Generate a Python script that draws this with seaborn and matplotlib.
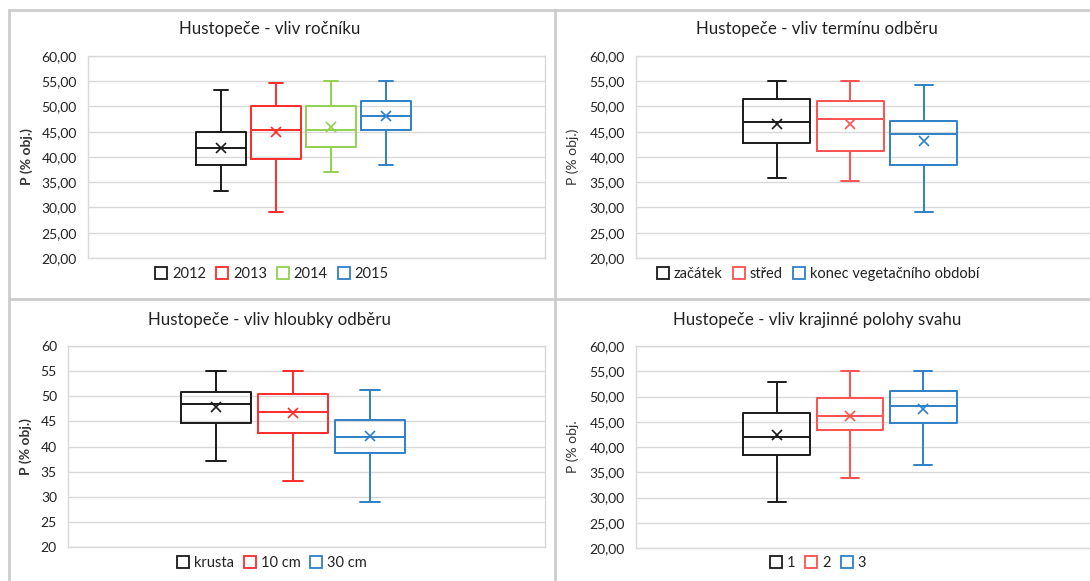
import numpy as np
import pandas as pd
import matplotlib
matplotlib.use("Agg")
import matplotlib.pyplot as plt
from matplotlib.lines import Line2D
from matplotlib.ticker import FuncFormatter, MultipleLocator
import seaborn as sns

sns.set_theme(style="white")
plt.rcParams["font.family"] = ["Lato", "DejaVu Sans"]

# --- Panel 1: vliv ročníku ---
years = ["2012", "2013", "2014", "2015"]
years_min = [33.3, 29.1, 37.1, 38.5]
years_q1 = [38.5, 39.7, 42.0, 45.4]
years_med = [41.7, 45.4, 45.4, 48.2]
years_q3 = [45.0, 50.1, 50.1, 51.0]
years_max = [53.2, 54.6, 55.0, 55.0]
years_mean = [41.7, 44.9, 46.0, 48.2]

# --- Panel 2: vliv termínu odběru ---
terms = ["začátek", "střed", "konec vegetačního období"]
terms_min = [35.9, 35.3, 29.1]
terms_q1 = [42.7, 41.1, 38.5]
terms_med = [47.0, 47.6, 44.5]
terms_q3 = [51.4, 51.0, 47.2]
terms_max = [55.0, 55.0, 54.3]
terms_mean = [46.6, 46.6, 43.1]

# --- Panel 3: vliv hloubky odběru ---
depths = ["krusta", "10 cm", "30 cm"]
depths_min = [37.1, 33.2, 28.9]
depths_q1 = [44.6, 42.7, 38.7]
depths_med = [48.4, 46.8, 41.8]
depths_q3 = [50.9, 50.5, 45.3]
depths_max = [55.0, 55.0, 51.3]
depths_mean = [47.8, 46.6, 42.1]

# --- Panel 4: vliv krajinné polohy svahu ---
slopes = ["1", "2", "3"]
slopes_min = [29.1, 33.9, 36.5]
slopes_q1 = [38.5, 43.4, 44.7]
slopes_med = [41.9, 46.2, 48.2]
slopes_q3 = [46.8, 49.8, 51.0]
slopes_max = [52.8, 55.0, 55.0]
slopes_mean = [42.4, 46.2, 47.6]

BLACK = "#1a1a1a"
RED = "#ff2a2a"
RED_LIGHT = "#ff5050"
GREEN = "#92d050"
BLUE = "#2e80c8"

W, H = 1090, 581
fig = plt.figure(figsize=(W / 100, H / 100), dpi=100)
fig.patch.set_facecolor("white")


def px_axes(x0, y0, x1, y1):
    return fig.add_axes([x0 / W, 1 - y1 / H, (x1 - x0) / W, (y1 - y0) / H])


def panel(ax, cats, mins, q1, med, q3, maxs, means, colors, title, title_xy,
          ylabel, ylabel_x, ylabel_bold, legend_xy, first_px, step_px,
          box_px, decimals):
    # five-number summary per category, so quartiles come out exact
    rows = []
    for c, a, b, m, d, e in zip(cats, mins, q1, med, q3, maxs):
        for v in (a, b, m, d, e):
            rows.append({"cat": c, "P": v})
    df = pd.DataFrame(rows)
    pal = dict(zip(cats, colors))
    sns.boxplot(data=df, x="cat", y="P", hue="cat", palette=pal, order=cats,
                hue_order=cats, dodge=False, fill=False, whis=(0, 100),
                width=box_px / step_px, linewidth=1.4, showfliers=False,
                capwidths=0.25, legend=False, ax=ax)
    for i, (m, col) in enumerate(zip(means, colors)):
        ax.plot(i, m, marker="x", color=col, markersize=6.5, mew=1.2,
                linestyle="none", zorder=5)

    # axis geometry
    bb = ax.get_position()
    x0 = bb.x0 * W
    x1 = bb.x1 * W
    ax.set_xlim(-(first_px - x0) / step_px, (x1 - first_px) / step_px)
    ax.set_ylim(20, 60)
    ax.yaxis.set_major_locator(MultipleLocator(5))
    if decimals:
        ax.yaxis.set_major_formatter(
            FuncFormatter(lambda v, p: f"{v:.2f}".replace(".", ",")))
    else:
        ax.yaxis.set_major_formatter(FuncFormatter(lambda v, p: f"{v:.0f}"))
    ax.set_xticks([])
    ax.set_xlabel("")
    ax.set_ylabel("")
    ax.tick_params(axis="y", length=0, pad=8, labelsize=10,
                   labelcolor="#222222")
    ax.grid(axis="y", color="#d9d9d9", linewidth=1.0)
    ax.set_axisbelow(True)
    for s in ax.spines.values():
        s.set_color("#d9d9d9")
        s.set_linewidth(1.0)

    fig.text(title_xy[0] / W, 1 - title_xy[1] / H, title, ha="center",
             va="center", fontsize=12.2, color="#222222")
    ymid = (1 - bb.y1) * H + (bb.y1 - bb.y0) * H * 0.5
    fig.text(ylabel_x / W, 1 - ymid / H, ylabel, rotation=90, ha="center",
             va="center", fontsize=10, color="#333333",
             fontweight="bold" if ylabel_bold else "normal")

    handles = [Line2D([], [], marker="s", markersize=8.5,
                      markerfacecolor="white", markeredgecolor=c,
                      markeredgewidth=1.3, linestyle="none")
               for c in colors]
    fig.legend(handles, cats, loc="center", ncol=len(cats),
               bbox_to_anchor=(legend_xy[0] / W, 1 - legend_xy[1] / H),
               frameon=False, fontsize=10.5, handletextpad=0.35,
               columnspacing=0.7, handlelength=0.8, borderaxespad=0,
               labelcolor="#222222")


ax1 = px_axes(88, 56, 545, 258)
panel(ax1, years, years_min, years_q1, years_med, years_q3, years_max,
      years_mean, [BLACK, RED, GREEN, BLUE], "Hustopeče - vliv ročníku",
      (270, 29), "P (% obj.)", 27, True, (272, 274), 221, 55, 50, True)

ax2 = px_axes(636, 56, 1093, 258)
panel(ax2, terms, terms_min, terms_q1, terms_med, terms_q3, terms_max,
      terms_mean, [BLACK, RED_LIGHT, BLUE], "Hustopeče - vliv termínu odběru",
      (817, 29), "P (% obj.)", 573, False, (818, 274), 776.7, 73.5, 66.7, True)

ax3 = px_axes(68, 346, 545, 547)
panel(ax3, depths, depths_min, depths_q1, depths_med, depths_q3, depths_max,
      depths_mean, [BLACK, RED, BLUE], "Hustopeče - vliv hloubky odběru",
      (270, 320), "P (% obj.)", 26, True, (272, 563), 216, 77, 70.7, False)

ax4 = px_axes(636, 346, 1093, 548)
panel(ax4, slopes, slopes_min, slopes_q1, slopes_med, slopes_q3, slopes_max,
      slopes_mean, [BLACK, RED_LIGHT, BLUE],
      "Hustopeče - vliv krajinné polohy svahu",
      (817, 320), "P (% obj.", 573, False, (818, 563), 776.7, 73.3, 66.7, True)

# chart-area borders
border = dict(color="#cccccc", linewidth=2.0, transform=fig.transFigure)
fig.add_artist(Line2D([9 / W, 1], [1 - 10 / H, 1 - 10 / H], **border))
fig.add_artist(Line2D([9 / W, 9 / W], [0, 1 - 10 / H], **border))
fig.add_artist(Line2D([555 / W, 555 / W], [0, 1 - 10 / H], **border))
fig.add_artist(Line2D([9 / W, 1], [1 - 299 / H, 1 - 299 / H], **border))

fig.savefig("out.png", dpi=100, facecolor="white")
